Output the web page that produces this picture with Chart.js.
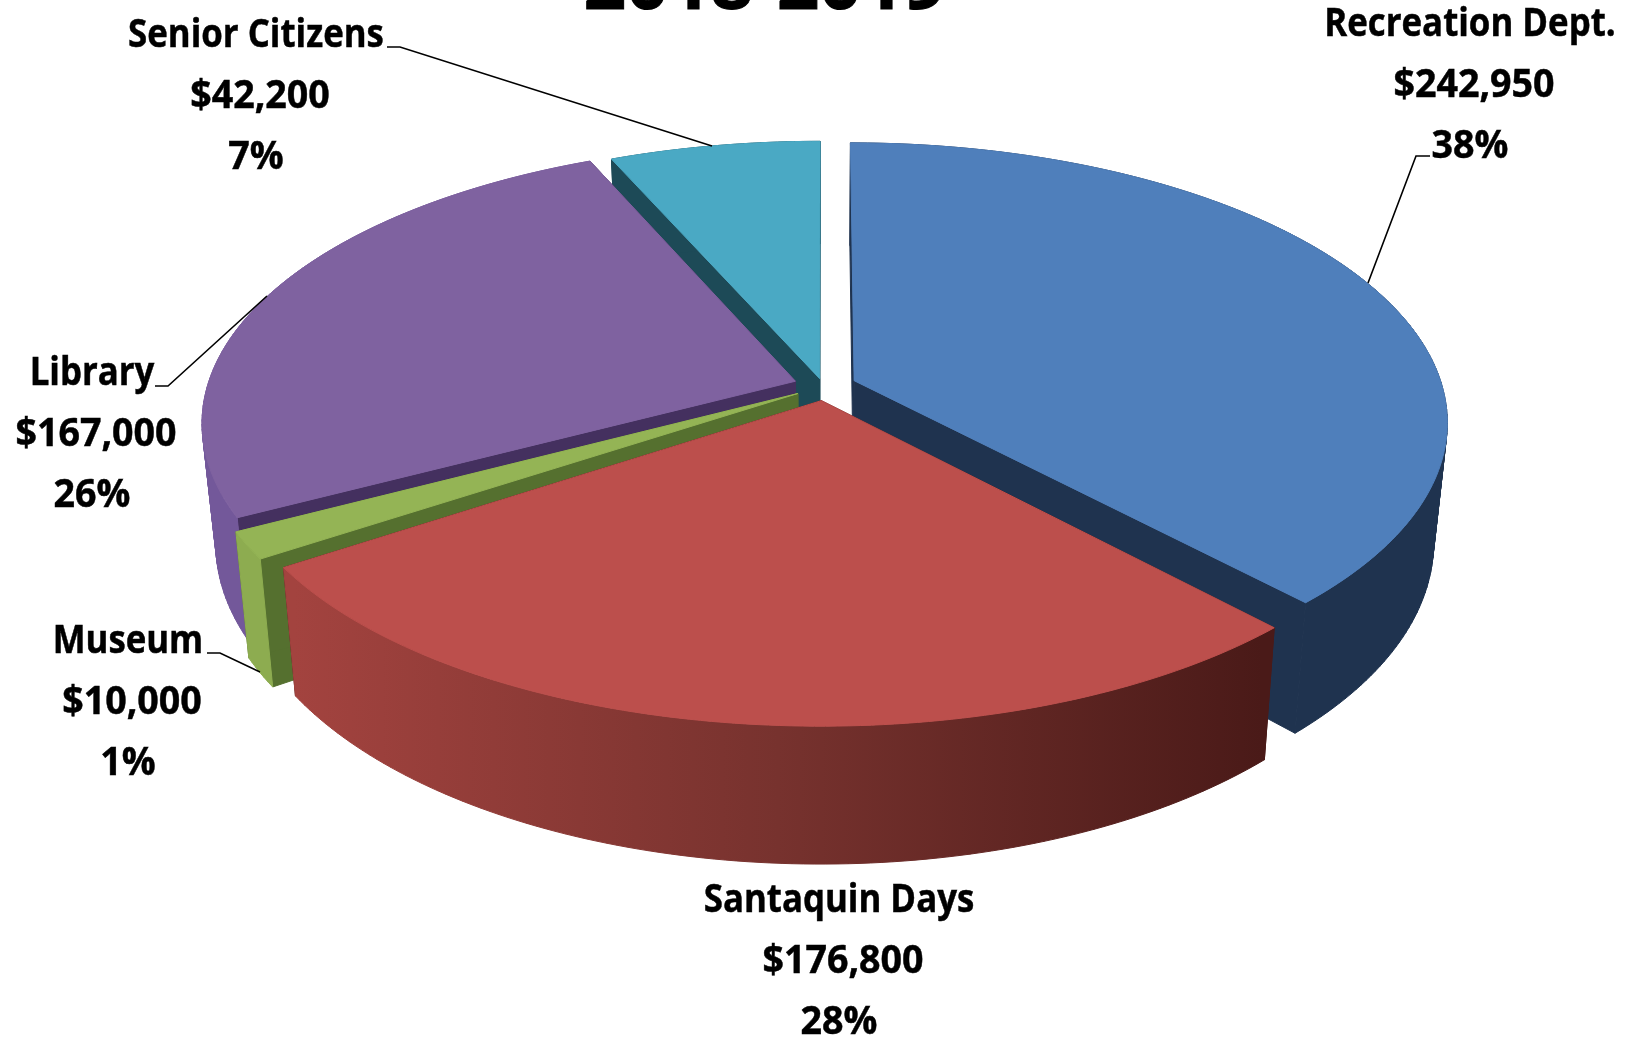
<!DOCTYPE html>
<html>
<head>
<meta charset="utf-8">
<title>2018-2019</title>
<script src="https://cdn.jsdelivr.net/npm/chart.js@4"></script>
<style>
  html, body { margin: 0; padding: 0; background: #fff; overflow: hidden; }
  canvas { display: block; }
</style>
</head>
<body>
<canvas id="budgetPie" width="1631" height="1038"></canvas>
<script>
const chartTitle = "2018-2019";
const categories = ["Recreation Dept.", "Santaquin Days", "Museum", "Library", "Senior Citizens"];
const amounts = [242950, 176800, 10000, 167000, 42200];
const percentLabels = ["38%", "28%", "1%", "26%", "7%"];

// slice colours: top face, rim wall, cut wall
const topColors = ["#4f7fbb", "#bc4f4c", "#94b455", "#7f62a0", "#4aa9c4"];
const rimColors = ["#1f334f", null, "#8dac50", "#73589a", "#1d4a57"];
const cutColors = ["#1f334f", "#4a1a18", "#55702f", "#44305f", "#1d4a57"];
const sliceOffsets = [27, 27, 27, 27, 14];
const sliceShiftX = [0, 0, 0, 0, -2];

// where each label block sits (centre x, first line y) and its leader line
const labelSpots = [[1470, 25], [839, 901], [128, 642], [92, 374], [256, 36]];
const leaders = [
  [[1430, 156], [1416, 156], [1368, 283]],
  null,
  [[207, 653], [220, 653], [260, 672]],
  [[155, 386], [168, 386], [267, 296]],
  [[387, 47], [400, 47], [712, 146]]
];

// perspective set-up for the tilted disc
const CX = 825, CY = 386, RX = 588, RY = 273.7, TILT = 0.145;
const DEPTH = 117.5, FLOOR_X = 0.978, FLOOR_Y = 1.06;
const NAME_SQUEEZE = 0.87, VALUE_SQUEEZE = 0.94, AMOUNT_NUDGE = 4;

function project(u, v, floor, shift) {
  const s = 1 / (1 - TILT * v);
  const x = RX * u * s, y = RY * v * s;
  return floor ? [CX + shift + x * FLOOR_X, CY + y * FLOOR_Y + DEPTH] : [CX + shift + x, CY + y];
}

function tracePoly(ctx, pts) {
  pts.forEach((p, i) => i ? ctx.lineTo(p[0], p[1]) : ctx.moveTo(p[0], p[1]));
  ctx.closePath();
}

function paint(ctx, fill) {
  ctx.fillStyle = fill;
  ctx.fill("nonzero");
  // hairline in the same colour hides seams between faces
  ctx.strokeStyle = fill;
  ctx.lineWidth = 1;
  ctx.stroke();
}

function fillPoly(ctx, pts, fill) {
  ctx.beginPath();
  tracePoly(ctx, pts);
  paint(ctx, fill);
}

// takes the angles and radius the pie controller worked out and extrudes the slice
function drawSlice(ctx, arc, i) {
  const mid = (arc.startAngle + arc.endAngle) / 2;
  const off = arc.options.offset / arc.outerRadius;
  const ou = Math.cos(mid) * off, ov = Math.sin(mid) * off;
  const shift = sliceShiftX[i];
  const steps = Math.max(2, Math.ceil((arc.endAngle - arc.startAngle) * 60));
  const rim = [];
  for (let n = 0; n <= steps; n++) {
    const a = arc.startAngle + (arc.endAngle - arc.startAngle) * n / steps;
    rim.push([ou + Math.cos(a), ov + Math.sin(a)]);
  }
  const top = rim.map(p => project(p[0], p[1], false, shift));
  const floor = rim.map(p => project(p[0], p[1], true, shift));
  const apexTop = project(ou, ov, false, shift);
  const apexFloor = project(ou, ov, true, shift);

  // cut walls
  fillPoly(ctx, [apexTop, top[0], floor[0], apexFloor], cutColors[i]);
  fillPoly(ctx, [apexTop, top[steps], floor[steps], apexFloor], cutColors[i]);

  // rim wall as quads so the sides reach the silhouette, the big front one shades left to right
  let rimFill = rimColors[i];
  if (!rimFill) {
    rimFill = ctx.createLinearGradient(295, 0, 1262, 0);
    rimFill.addColorStop(0, "#a3433f");
    rimFill.addColorStop(0.5, "#77322e");
    rimFill.addColorStop(1, "#4a1a18");
  }
  ctx.beginPath();
  for (let n = 0; n < steps; n++) {
    // keep every quad wound the same way for the nonzero fill
    const quad = [top[n], top[n + 1], floor[n + 1], floor[n]];
    let area = 0;
    quad.forEach((p, k) => {
      const q = quad[(k + 1) % 4];
      area += p[0] * q[1] - q[0] * p[1];
    });
    tracePoly(ctx, area < 0 ? quad.reverse() : quad);
  }
  paint(ctx, rimFill);

  fillPoly(ctx, [apexTop].concat(top), topColors[i]);
}

function squeezedText(ctx, text, x, y, squeeze) {
  ctx.save();
  ctx.translate(x, y);
  ctx.scale(squeeze, 1);
  ctx.fillText(text, 0, 0);
  ctx.strokeText(text, 0, 0);
  ctx.restore();
}

const pie3d = {
  id: "pie3d",
  beforeDatasetsDraw(chart) {
    const ctx = chart.ctx;
    const arcs = chart.getDatasetMeta(0).data;
    // back slices first
    const order = arcs.map((arc, i) => i).sort((a, b) =>
      Math.sin((arcs[a].startAngle + arcs[a].endAngle) / 2) -
      Math.sin((arcs[b].startAngle + arcs[b].endAngle) / 2));
    ctx.save();
    order.forEach(i => drawSlice(ctx, arcs[i], i));
    ctx.restore();
    return false;
  },
  afterDraw(chart) {
    const ctx = chart.ctx;
    ctx.save();
    ctx.fillStyle = "#000";
    ctx.strokeStyle = "#000";
    ctx.textAlign = "center";
    ctx.textBaseline = "alphabetic";
    ctx.font = 'bold 74px "Open Sans", sans-serif';
    ctx.lineWidth = 1;
    ctx.fillText(chartTitle, 765, 9);
    ctx.strokeText(chartTitle, 765, 9);

    ctx.textBaseline = "middle";
    ctx.font = 'bold 40px "Open Sans", sans-serif';
    ctx.lineWidth = 0.5;
    categories.forEach((name, i) => {
      const [x, y] = labelSpots[i];
      squeezedText(ctx, name, x, y, NAME_SQUEEZE);
      squeezedText(ctx, "$" + amounts[i].toLocaleString("en-US"), x + AMOUNT_NUDGE, y + 61, VALUE_SQUEEZE);
      squeezedText(ctx, percentLabels[i], x, y + 122, VALUE_SQUEEZE);
    });

    ctx.lineWidth = 1.6;
    leaders.forEach(line => {
      if (!line) return;
      ctx.beginPath();
      line.forEach((p, i) => i ? ctx.lineTo(p[0], p[1]) : ctx.moveTo(p[0], p[1]));
      ctx.stroke();
    });
    ctx.restore();
  }
};

new Chart(document.getElementById("budgetPie"), {
  type: "pie",
  data: {
    labels: categories,
    datasets: [{ data: amounts, backgroundColor: topColors, borderWidth: 0, offset: sliceOffsets }]
  },
  options: {
    responsive: false,
    animation: false,
    plugins: { legend: { display: false }, tooltip: { enabled: false } }
  },
  plugins: [pie3d]
});
</script>
</body>
</html>
